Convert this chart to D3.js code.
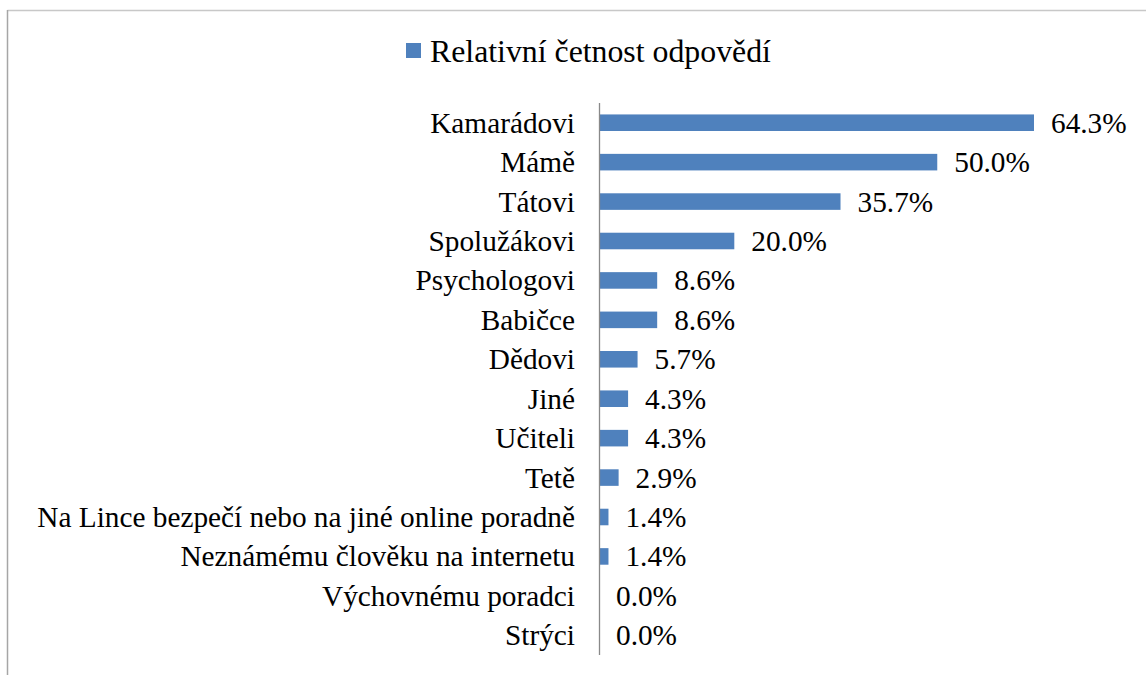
<!DOCTYPE html>
<html>
<head>
<meta charset="utf-8">
<script src="https://cdn.jsdelivr.net/npm/d3@7"></script>
</head>
<body style="margin:0">
<script>
const categories = [
  "Kamarádovi", "Mámě", "Tátovi", "Spolužákovi", "Psychologovi", "Babičce",
  "Dědovi", "Jiné", "Učiteli", "Tetě",
  "Na Lince bezpečí nebo na jiné online poradně",
  "Neznámému člověku na internetu", "Výchovnému poradci", "Strýci"
];
const values = [64.3, 50.0, 35.7, 20.0, 8.6, 8.6, 5.7, 4.3, 4.3, 2.9, 1.4, 1.4, 0.0, 0.0];
const seriesName = "Relativní četnost odpovědí";

const W = 1147, H = 675;
const svg = d3.select("body").append("svg").attr("width", W).attr("height", H);

// frame (top + left edges visible)
svg.append("line").attr("x1", 7.5).attr("x2", 1146).attr("y1", 10.5).attr("y2", 10.5)
  .attr("stroke", "#c8c8c8").attr("stroke-width", 1.5);
svg.append("line").attr("x1", 7.5).attr("x2", 7.5).attr("y1", 10).attr("y2", H)
  .attr("stroke", "#a6a6a6").attr("stroke-width", 1.5);

const x = d3.scaleLinear().domain([0, 64.3]).range([599, 1034]);
const y = d3.scaleBand().domain(categories).range([103, 655]).paddingInner(0.58).paddingOuter(0.29);

// bars
svg.append("g").selectAll("rect").data(values).join("rect")
  .attr("x", x(0))
  .attr("y", (d, i) => y(categories[i]))
  .attr("width", d => x(d) - x(0))
  .attr("height", y.bandwidth())
  .attr("fill", "#4F81BD");

// category axis
const yAxis = d3.axisLeft(y).tickSize(0).tickPadding(24);
const ag = svg.append("g").attr("transform", "translate(" + x(0) + ",0)").call(yAxis);
ag.select(".domain").attr("stroke", "#898989").attr("stroke-width", 1.3)
  .attr("d", "M0.5,103V655");
ag.selectAll(".tick text")
  .attr("font-family", "Liberation Serif")
  .attr("font-size", 29.3)
  .attr("fill", "#000")
  .attr("dy", "0.34em");

// value labels
svg.selectAll("text.val").data(values).join("text")
  .attr("class", "val")
  .attr("x", d => x(d) + 17)
  .attr("y", (d, i) => y(categories[i]) + y.bandwidth() / 2)
  .attr("dy", "0.34em")
  .attr("font-family", "Liberation Serif")
  .attr("font-size", 29.3)
  .attr("fill", "#000")
  .text(d => d.toFixed(1) + "%");

// legend
svg.append("rect").attr("x", 406).attr("y", 43).attr("width", 15).attr("height", 15).attr("fill", "#4F81BD");
svg.append("text").attr("x", 430).attr("y", 62)
  .attr("font-family", "Liberation Serif")
  .attr("font-size", 31.8)
  .attr("fill", "#000")
  .text(seriesName);
</script>
</body>
</html>
